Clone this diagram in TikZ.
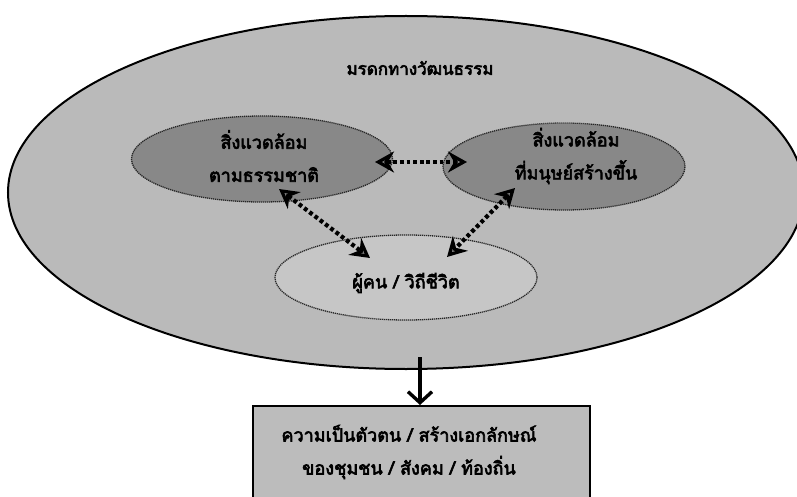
\documentclass[tikz,border=0pt]{standalone}
\usepackage{fontspec}
\newfontfamily\thaifont[Script=Thai,FakeBold=3.5]{Loma}
\usetikzlibrary{shapes.geometric,arrows.meta}
\definecolor{bigfill}{RGB}{186,186,186}
\definecolor{darkfill}{RGB}{136,136,136}
\definecolor{lightfill}{RGB}{198,198,198}
\definecolor{boxfill}{RGB}{188,188,188}
\tikzset{
  thtext/.style={font=\thaifont\fontsize{18}{33}\selectfont, align=center, text=black},
  titletext/.style={font=\thaifont\fontsize{17}{30}\selectfont, align=center, text=black},
  inner/.style={ellipse, draw=black!85, line width=1.3pt, dash pattern=on 1.2pt off 0.8pt, inner sep=0pt},
  dotarrow/.style={line width=4.2pt, dash pattern=on 3.8pt off 2.8pt, black,
     {Stealth[open,length=19pt,width=21pt,line width=3.4pt,fill=gray]}-{Stealth[open,length=19pt,width=21pt,line width=3.4pt,fill=gray]}},
  downarrow/.style={line width=3.4pt, -{Straight Barb[length=11pt,width=24pt,line width=3.4pt]}},
}
\begin{document}
\begin{tikzpicture}[x=1pt,y=-1pt]
\useasboundingbox (0,0) rectangle (797,497);
\clip (0,0) rectangle (797,497);
\fill[white] (0,0) rectangle (797,497);
% big ellipse
\node[ellipse, draw=black, line width=2pt, fill=bigfill, minimum width=796pt, minimum height=353pt, inner sep=0pt] (heritage) at (406,192.5) {};
\node[titletext] (title) at (420,68) {มรดกทางวัฒนธรรม};
% inner ellipses
\node[inner, fill=darkfill, minimum width=261pt, minimum height=86pt] (nature) at (262,159) {};
\node[inner, fill=darkfill, minimum width=242pt, minimum height=87pt] (human) at (564,166.5) {};
\node[inner, fill=lightfill, minimum width=262pt, minimum height=85pt] (people) at (406,277.5) {};
\node[thtext] (natureT) at (264,156) {สิ่งแวดล้อม\\ตามธรรมชาติ};
\node[thtext] (humanT) at (576,156) {สิ่งแวดล้อม\\ที่มนุษย์สร้างขึ้น};
\node[thtext] (peopleT) at (406,283) {ผู้คน / วิถีชีวิต};
% arrow end points
\coordinate (a1) at (375,162);
\coordinate (a2) at (467,162);
\coordinate (b1) at (279,189);
\coordinate (b2) at (370,258);
\coordinate (c1) at (515,188);
\coordinate (c2) at (447,257);
\draw[dotarrow] (a1) -- (a2);
\draw[dotarrow] (b1) -- (b2);
\draw[dotarrow] (c1) -- (c2);
% bottom box
\node[draw=black, line width=2.4pt, fill=boxfill, minimum width=337pt, minimum height=110pt, inner sep=0pt, anchor=north west] (box) at (252,405) {};
\node[thtext] (boxT) at (409,452) {ความเป็นตัวตน / สร้างเอกลักษณ์\\ของชุมชน / สังคม / ท้องถิ่น};
\coordinate (arrstart) at (420,357);
\draw[downarrow] (arrstart) -- (arrstart |- box.north);
\end{tikzpicture}
\end{document}
